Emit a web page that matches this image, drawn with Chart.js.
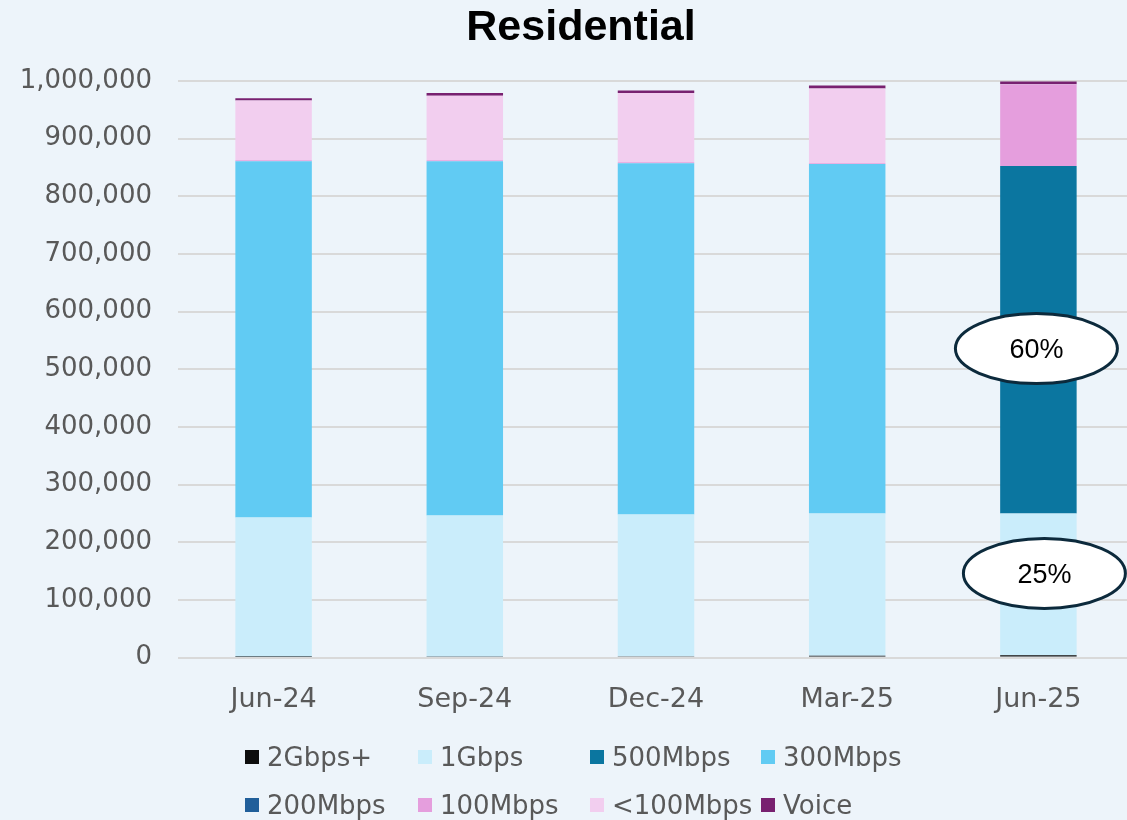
<!DOCTYPE html>
<html>
<head>
<meta charset="utf-8">
<script src="https://cdn.jsdelivr.net/npm/chart.js@4"></script>
<style>
  html, body { margin:0; padding:0; background:#edf4fa; overflow:hidden; }
  #wrap { position:relative; width:1134px; height:820px; }
  #legend { position:absolute; left:0; top:0; font-family:"DejaVu Sans", sans-serif; font-size:26px; color:#595959; }
  .item { position:absolute; display:flex; align-items:center; white-space:nowrap; height:30px; }
  .box { width:14px; height:14px; margin-right:8px; }
</style>
</head>
<body>
<div id="wrap">
  <canvas id="chart" width="1134" height="820"></canvas>
  <div id="legend"></div>
</div>
<script>
// ========================
// DATA
// ========================
const quarters = ['Jun-24','Sep-24','Dec-24','Mar-25','Jun-25'];
const tiers = ['2Gbps+','1Gbps','500Mbps','300Mbps','200Mbps','100Mbps','<100Mbps','Voice'];
const tierColors = ['#0d0d0d','#caedfb','#0b76a0','#61cbf3','#215f9a','#e59edd','#f2ceef','#782170'];

const gbps2    = [1200, 1600, 2200, 3000, 4000];
const gbps1    = [241800, 244900, 245800, 247000, 246000];
const mbps500  = [0, 0, 0, 0, 602500];
const mbps300  = [618000, 614500, 609500, 606000, 0];
const mbps200  = [0, 0, 0, 0, 0];
const mbps100  = [1500, 1500, 1500, 1500, 141500];
const mbpsLow  = [103800, 112000, 120000, 129500, 500];
const voice    = [4000, 4500, 4500, 5000, 4500];
const series = [gbps2, gbps1, mbps500, mbps300, mbps200, mbps100, mbpsLow, voice];

const chartTitle = 'Residential';

// call-outs on the last bar
const calloutText  = ['60%', '25%'];
const calloutValue = [536000, 146000];
const calloutShift = [-2, 6];

// ========================
// TITLE + CALL-OUT ELLIPSES
// ========================
const extras = {
  id: 'extras',
  afterDatasetsDraw(chart) {
    const ctx = chart.ctx;
    const x = chart.scales.x, y = chart.scales.y;

    ctx.save();
    ctx.fillStyle = '#000000';
    ctx.font = 'bold 43px "Liberation Sans", Arial, sans-serif';
    ctx.textAlign = 'center';
    ctx.textBaseline = 'middle';
    ctx.fillText(chartTitle, 581, 28);
    ctx.restore();

    const cx0 = x.getPixelForValue(quarters.length - 1);
    calloutText.forEach((t, i) => {
      const cx = cx0 + calloutShift[i];
      const cy = y.getPixelForValue(calloutValue[i]);
      ctx.save();
      ctx.beginPath();
      ctx.ellipse(cx, cy, 81, 35, 0, 0, Math.PI * 2);
      ctx.fillStyle = '#ffffff';
      ctx.fill();
      ctx.lineWidth = 3;
      ctx.strokeStyle = '#0c2a3c';
      ctx.stroke();
      ctx.fillStyle = '#000000';
      ctx.font = '27px "Liberation Sans", Arial, sans-serif';
      ctx.textAlign = 'center';
      ctx.textBaseline = 'middle';
      ctx.fillText(t, cx, cy + 2);
      ctx.restore();
    });
  }
};

// ========================
// CHART
// ========================
const chart = new Chart(document.getElementById('chart'), {
  type: 'bar',
  data: {
    labels: quarters,
    datasets: tiers.map((t, i) => ({
      label: t, data: series[i], backgroundColor: tierColors[i],
      barPercentage: 0.4, categoryPercentage: 1
    }))
  },
  options: {
    responsive: false,
    animation: false,
    layout: { padding: { left: 0, top: 81, right: 0, bottom: 78 } },
    plugins: {
      legend: { display: false },
      tooltip: { enabled: false },
      title: { display: false }
    },
    scales: {
      x: {
        stacked: true,
        grid: { display: false, drawTicks: false },
        border: { display: false },
        ticks: { color: '#595959', padding: 26, font: { family: '"DejaVu Sans", sans-serif', size: 27 } }
      },
      y: {
        stacked: true,
        min: 0, max: 1000000,
        afterFit(axis) { axis.width = 178; },
        grid: { color: '#d9d9d9', lineWidth: 2, drawTicks: false },
        border: { display: false },
        ticks: {
          stepSize: 100000, padding: 26, color: '#595959',
          font: { family: '"DejaVu Sans", sans-serif', size: 26 },
          callback: v => v.toLocaleString('en-US')
        }
      }
    }
  },
  plugins: [extras]
});

// ========================
// LEGEND (4 columns x 2 rows)
// ========================
const legendCols = [245, 418, 590, 761];
const legendRows = [757, 805];
const legendEl = document.getElementById('legend');
tiers.forEach((t, i) => {
  const d = document.createElement('div');
  d.className = 'item';
  d.style.left = legendCols[i % 4] + 'px';
  d.style.top = (legendRows[Math.floor(i / 4)] - 15) + 'px';
  d.innerHTML = `<span class="box" style="background:${tierColors[i]}"></span><span>${t.replace('<','&lt;')}</span>`;
  legendEl.appendChild(d);
});
</script>
</body>
</html>
